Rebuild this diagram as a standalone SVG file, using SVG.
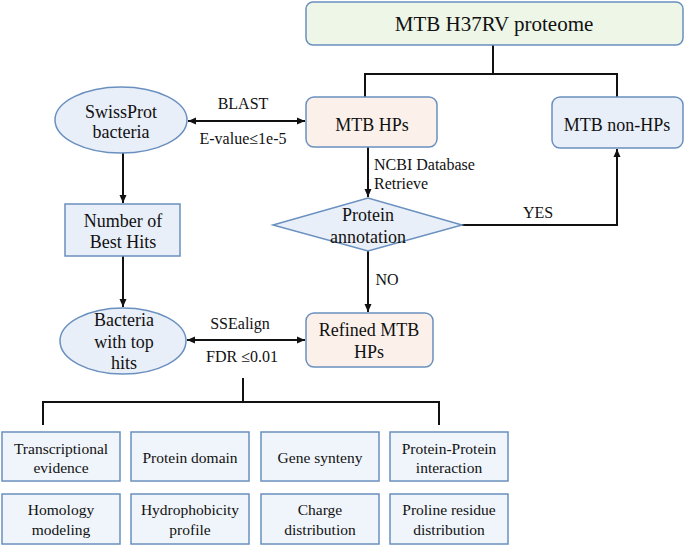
<svg xmlns="http://www.w3.org/2000/svg" width="685" height="546" viewBox="0 0 685 546" font-family="'Liberation Serif', 'Times New Roman', 'DejaVu Serif', serif">
<style>
text{fill:#111;text-anchor:middle}
.n{stroke:#6a90bf;stroke-width:1.5}
.g{fill:#eef6e8}.p{fill:#fbf0ea}.b{fill:#e9eff8}.c{fill:#f0f5fb}
.t18{font-size:18px}.t16{font-size:16px}.t15{font-size:15.5px}
.l{fill:none;stroke:#111;stroke-width:2}
</style>
<defs>
<marker id="ah" markerWidth="8" markerHeight="8" refX="8" refY="4" orient="auto-start-reverse" markerUnits="userSpaceOnUse">
<path d="M0,0.5 L8,4 L0,7.5 Z" fill="#111"/>
</marker>
</defs>
<rect width="685" height="546" fill="#fff"/>
<g id="connectors">
<path class="l" d="M493,45 V74 M365,97 V74 H617 V97"/>
<path class="l" d="M188,121 H305" marker-start="url(#ah)" marker-end="url(#ah)"/>
<path class="l" d="M123,153 V203" marker-end="url(#ah)"/>
<path class="l" d="M123,256 V307" marker-end="url(#ah)"/>
<path class="l" d="M368,147 V197" marker-end="url(#ah)"/>
<path class="l" d="M368,251 V312" marker-end="url(#ah)"/>
<path class="l" d="M462,225 H617 V149" marker-end="url(#ah)"/>
<path class="l" d="M187,340 H305" marker-start="url(#ah)" marker-end="url(#ah)"/>
<path class="l" d="M243,378 V402 M43,425 V402 H439 V425"/>
<text class="t16" x="243" y="109">BLAST</text>
<text class="t16" x="243" y="144">E-value≤1e-5</text>
<text class="t16" x="374" y="170" style="text-anchor:start">NCBI Database</text>
<text class="t16" x="374" y="189" style="text-anchor:start">Retrieve</text>
<text class="t16" x="538" y="218">YES</text>
<text class="t16" x="387" y="285">NO</text>
<text class="t16" x="240" y="329">SSEalign</text>
<text class="t16" x="242" y="362">FDR ≤0.01</text>
</g>
<g id="proteome"><rect class="n g" x="306" y="2" width="377" height="43" rx="7"/><text x="494" y="31" style="font-size:21px">MTB H37RV proteome</text></g>
<g id="hps"><rect class="n p" x="306" y="97" width="131" height="50" rx="8"/><text class="t18" x="372" y="131">MTB HPs</text></g>
<g id="nonhps"><rect class="n b" x="552" y="97" width="131" height="51" rx="8"/><text class="t18" x="617" y="131">MTB non-HPs</text></g>
<g id="swissprot"><ellipse class="n b" cx="121" cy="120" rx="66" ry="33"/><text class="t18" x="121" y="118">SwissProt</text><text class="t18" x="121" y="138">bacteria</text></g>
<g id="besthits"><rect class="n b" x="65" y="204" width="115" height="52"/><text class="t18" x="123" y="227">Number of</text><text class="t18" x="123" y="248">Best Hits</text></g>
<g id="annotation"><polygon class="n b" points="273,225 368,198 462,225 368,251"/><text class="t18" x="368" y="221">Protein</text><text class="t18" x="368" y="243">annotation</text></g>
<g id="refined"><rect class="n p" x="306" y="313" width="127" height="54" rx="8"/><text class="t18" x="369" y="336">Refined MTB</text><text class="t18" x="369" y="358">HPs</text></g>
<g id="bacteria"><ellipse class="n b" cx="123" cy="341" rx="63" ry="33"/><text class="t18" x="124" y="326">Bacteria</text><text class="t18" x="124" y="348">with top</text><text class="t18" x="124" y="369">hits</text></g>
<g id="transcriptional"><rect class="n c" x="2" y="432" width="118" height="49"/><text class="t15" x="61" y="454">Transcriptional</text><text class="t15" x="61" y="473">evidence</text></g>
<g id="domain"><rect class="n c" x="131" y="432" width="118" height="49"/><text class="t15" x="190" y="463">Protein domain</text></g>
<g id="synteny"><rect class="n c" x="261" y="432" width="118" height="49"/><text class="t15" x="320" y="463">Gene synteny</text></g>
<g id="ppi"><rect class="n c" x="390" y="432" width="118" height="49"/><text class="t15" x="449" y="454">Protein-Protein</text><text class="t15" x="449" y="473">interaction</text></g>
<g id="homology"><rect class="n c" x="2" y="494" width="118" height="50"/><text class="t15" x="61" y="515">Homology</text><text class="t15" x="61" y="535">modeling</text></g>
<g id="hydro"><rect class="n c" x="131" y="494" width="118" height="50"/><text class="t15" x="190" y="515">Hydrophobicity</text><text class="t15" x="190" y="535">profile</text></g>
<g id="charge"><rect class="n c" x="261" y="494" width="118" height="50"/><text class="t15" x="320" y="515">Charge</text><text class="t15" x="320" y="535">distribution</text></g>
<g id="proline"><rect class="n c" x="390" y="494" width="118" height="50"/><text class="t15" x="449" y="515">Proline residue</text><text class="t15" x="449" y="535">distribution</text></g>
</svg>
